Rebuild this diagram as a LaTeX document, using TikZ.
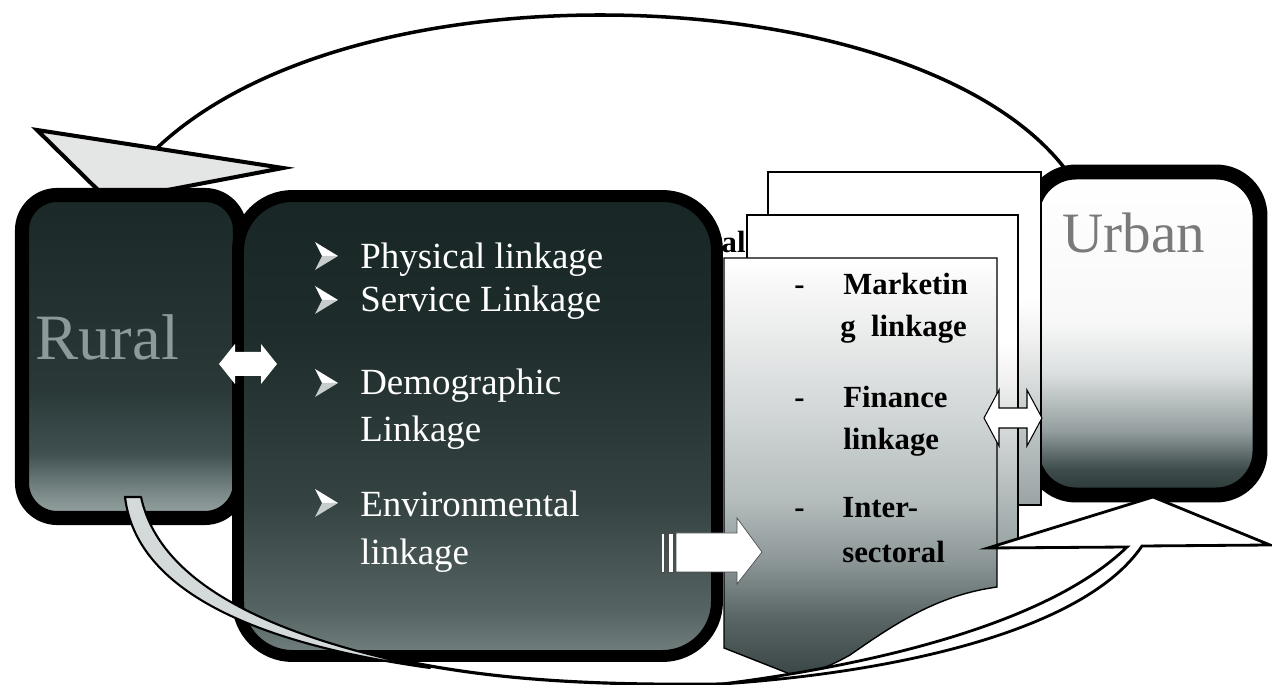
\documentclass[tikz,border=0pt]{standalone}
\usepackage{fontspec}
\setmainfont{Liberation Serif}
\definecolor{ruralA}{HTML}{9AA6A6}
\definecolor{ruralB}{HTML}{7A8888}
\definecolor{ruralC}{HTML}{405050}
\definecolor{ruralD}{HTML}{2A3838}
\definecolor{ruralE}{HTML}{1A2828}
\definecolor{midA}{HTML}{728080}
\definecolor{midB}{HTML}{556363}
\definecolor{midC}{HTML}{344242}
\definecolor{midD}{HTML}{1E2C2C}
\definecolor{midE}{HTML}{182626}
\definecolor{urbA}{HTML}{2A3636}
\definecolor{urbB}{HTML}{3E4C4C}
\definecolor{urbC}{HTML}{949E9E}
\definecolor{urbD}{HTML}{DCE0E0}
\definecolor{urbE}{HTML}{F8F8F8}
\definecolor{frA}{HTML}{3A4646}
\definecolor{frB}{HTML}{5A6666}
\definecolor{frC}{HTML}{8E9898}
\definecolor{frD}{HTML}{B4BCBC}
\definecolor{frE}{HTML}{D6DADA}
\definecolor{frF}{HTML}{F4F4F4}
\definecolor{pgA}{HTML}{9AA4A4}
\definecolor{pgB}{HTML}{B8C0C0}
\definecolor{pgC}{HTML}{F0F0F0}
\definecolor{tailgrey}{HTML}{D4DADA}
\definecolor{flaggrey}{HTML}{E4E6E6}
\definecolor{ruraltext}{HTML}{8C9A9A}
\definecolor{urbantext}{HTML}{7A7A7A}
\definecolor{bulletshade}{HTML}{C8CCCC}
\pgfdeclareverticalshading{ruralshade}{100bp}{color(0bp)=(ruralA); color(25bp)=(ruralA); color(29bp)=(ruralB); color(35bp)=(ruralC); color(45bp)=(ruralD); color(75bp)=(ruralE); color(100bp)=(ruralE)}
\pgfdeclareverticalshading{middleshade}{100bp}{color(0bp)=(midA); color(25bp)=(midA); color(30bp)=(midB); color(42bp)=(midC); color(60bp)=(midD); color(75bp)=(midE); color(100bp)=(midE)}
\pgfdeclareverticalshading{urbanshade}{100bp}{color(0bp)=(urbA); color(25bp)=(urbA); color(29bp)=(urbB); color(35bp)=(urbC); color(44bp)=(urbD); color(52bp)=(urbE); color(75bp)=(white); color(100bp)=(white)}
\pgfdeclareverticalshading{frontshade}{100bp}{color(0bp)=(frA); color(25bp)=(frA); color(32bp)=(frB); color(39bp)=(frC); color(46bp)=(frD); color(58bp)=(frE); color(70bp)=(frF); color(75bp)=(white); color(100bp)=(white)}
\pgfdeclareverticalshading{pageshade}{100bp}{color(0bp)=(pgA); color(25bp)=(pgA); color(35bp)=(pgB); color(50bp)=(pgC); color(56bp)=(white); color(100bp)=(white)}
\begin{document}
\begin{tikzpicture}[x=0.02cm,y=-0.02cm,
  page/.style={draw=black, line width=0.8pt, shade, shading=pageshade},
  arrowwhite/.style={fill=white, draw=black, line width=0.6pt, line join=miter},
  listtext/.style={anchor=base west, inner sep=0pt, text=white, font=\fontsize{21}{25}\selectfont},
  boldtext/.style={anchor=base west, inner sep=0pt, text=black, font=\fontsize{17.5}{21}\selectfont\bfseries}]
\useasboundingbox (0,0) rectangle (1272,685);

% three-dimensional arrowhead bullet, drawn at its left middle point
\newcommand{\listbullet}[2]{%
  \fill[white] (#1,#2-14) -- (#1+23,#2) -- (#1+7,#2) -- cycle;
  \fill[bulletshade] (#1+7,#2) -- (#1+23,#2) -- (#1,#2+14) -- cycle;}

% large loop joining the two callouts, upper half
\draw[line width=2pt, line cap=round] (157,148) .. controls (250,60) and (420,15) .. (600,15)
  .. controls (800,15) and (990,70) .. (1066,170);

% pointed flag on top of the Rural box
\draw[line width=2.3pt, fill=flaggrey, line join=miter] (37,130) -- (283,168) -- (157,192) -- (100,192) -- cycle;

% Urban box
\draw[line width=8.5pt, rounded corners=25pt, shade, shading=urbanshade] (1032,172) rectangle (1260,495);

% stacked pages, back to front
\draw[page] (768,172) rectangle (1041,505);
\draw[page] (747,215) rectangle (1018,548);
\draw[draw=black, line width=0.8pt, shade, shading=frontshade]
  (724,258) -- (997,258) -- (997,587)
  .. controls (940,595) and (900,620) .. (850,655)
  .. controls (820,672) and (800,676) .. (790,674)
  -- (724,648) -- cycle;
\node[boldtext, anchor=base east] (al) at (746,253) {al};

% Urban callout with its tail
\draw[line width=1.6pt, fill=white, line join=miter]
  (1153,497) -- (1270,545) -- (1142,546)
  .. controls (1085,630) and (900,672) .. (722,684)
  .. controls (880,664) and (1050,622) .. (1127,547)
  -- (988,548) -- cycle;

% Rural box
\draw[line width=8pt, rounded corners=20pt, shade, shading=ruralshade] (22,195) rectangle (240,518);

% linkage box
\draw[line width=6.8pt, rounded corners=31pt, shade, shading=middleshade] (238,196) rectangle (717,656);

% lower half of the loop
\draw[line width=1.8pt] (380,656) .. controls (470,676) and (560,686) .. (724,684);

% tail hanging from the Rural box
\draw[line width=1.2pt, fill=tailgrey, line join=round]
  (125,497) .. controls (135,580) and (230,640) .. (430,668)
  .. controls (250,632) and (158,575) .. (141,497) -- cycle;

% two-way arrow Rural <-> linkages
\fill[white] (219,364) -- (235,344) -- (235,352) -- (261,352) -- (261,344) -- (277,364)
  -- (261,384) -- (261,376) -- (235,376) -- (235,384) -- cycle;

% two-way arrow pages <-> Urban
\draw[arrowwhite] (984,418) -- (999,390) -- (999,408) -- (1027,408) -- (1027,390) -- (1042,418)
  -- (1027,446) -- (1027,428) -- (999,428) -- (999,446) -- cycle;

% striped arrow linkages -> pages
\draw[fill=white, draw=black!70, line width=0.4pt] (661,533) rectangle (664,572);
\draw[fill=white, draw=black!70, line width=0.4pt] (668,533) rectangle (673,572);
\draw[fill=white, draw=black!70, line width=0.4pt, line join=miter]
  (676,533) -- (737,533) -- (737,518) -- (762,552) -- (737,584) -- (737,572) -- (676,572) -- cycle;

% box titles
\node[anchor=base west, inner sep=0pt, text=ruraltext, font=\fontsize{36.8}{40}\selectfont] (rural) at (35,360) {Rural};
\node[anchor=base west, inner sep=0pt, text=urbantext, font=\fontsize{32.5}{36}\selectfont] (urban) at (1062,253) {Urban};

% list of linkages
\listbullet{315}{256}
\node[listtext] (phys) at (360,269) {Physical linkage};
\listbullet{315}{300}
\node[listtext] (serv) at (360,312) {Service Linkage};
\listbullet{315}{383}
\node[listtext] (demo) at (360,395) {Demographic};
\node[listtext] (demo2) at (360,442) {Linkage};
\listbullet{315}{503}
\node[listtext] (env) at (360,517) {Environmental};
\node[listtext] (env2) at (360,565) {linkage};

% items on the front page
\node[boldtext] (d1) at (794,295) {-};
\node[boldtext] (mk) at (843,295) {Marketin};
\node[boldtext] (mk2) at (840,337) {g\ \ linkage};
\node[boldtext] (d2) at (794,408) {-};
\node[boldtext] (fi) at (843,408) {Finance};
\node[boldtext] (fi2) at (843,450) {linkage};
\node[boldtext] (d3) at (794,518) {-};
\node[boldtext] (is) at (842,518) {Inter-};
\node[boldtext] (is2) at (842,563) {sectoral};
\end{tikzpicture}
\end{document}
